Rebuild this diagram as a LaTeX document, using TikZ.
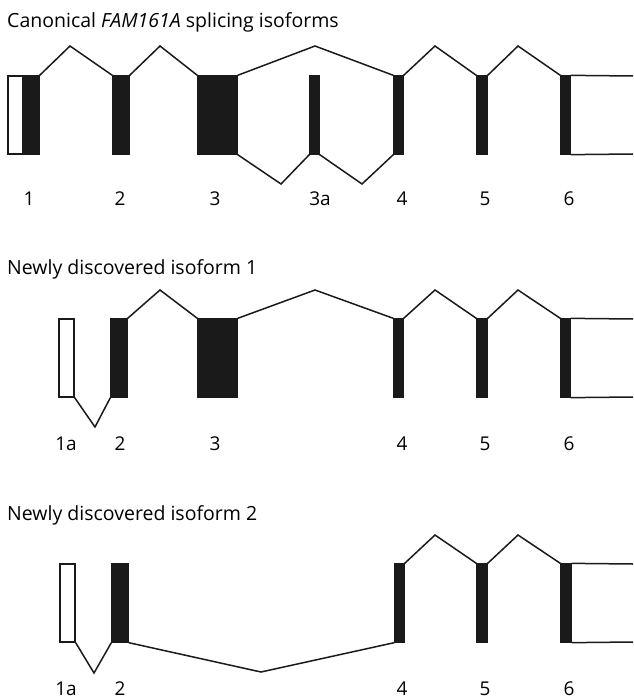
\documentclass[tikz,border=0pt]{standalone}
\usepackage{fontspec}
\setmainfont{Open Sans}
\usepackage{tikz}
\usetikzlibrary{positioning}

\definecolor{exonblack}{HTML}{1A1A1A}

\begin{document}
\begin{tikzpicture}[
		x=1pt, y=-1pt,
		exon/.style={rectangle, draw=exonblack, fill=exonblack, line width=1.3pt, inner sep=0pt, minimum height=78pt},
		utr/.style={rectangle, draw=exonblack, fill=white, line width=1.3pt, inner sep=0pt, minimum height=78pt},
		intron/.style={draw=exonblack, line width=1.5pt, line join=miter},
		title/.style={anchor=base west, inner sep=0pt, font=\fontsize{19.5}{23}\selectfont},
		label/.style={anchor=base, inner sep=0pt, font=\fontsize{19}{23}\selectfont}
	]
	\useasboundingbox (0,0) rectangle (633,700);

	% canonical isoforms
	\node[title] (t1) at (7,28) {Canonical \textit{FAM161A} splicing isoforms};
	\node[utr, minimum width=15pt] (a1u) at (15.5,115) {};
	\node[exon, minimum width=16pt] (a1) at (31,115) {};
	\node[exon, minimum width=16pt] (a2) at (121,115) {};
	\node[exon, minimum width=39pt] (a3) at (217.5,115) {};
	\node[exon, minimum width=9pt] (a3a) at (314.5,115) {};
	\node[exon, minimum width=9pt] (a4) at (398.5,115) {};
	\node[exon, minimum width=10pt] (a5) at (482,115) {};
	\node[exon, minimum width=9pt] (a6) at (565.5,115) {};
	\coordinate (a6t) at (633,76);
	\coordinate (a6b) at (633,154);

	\draw[intron] (a1.north east) -- (70,46) -- (a2.north west);
	\draw[intron] (a2.north east) -- (160,46) -- (a3.north west);
	\draw[intron] (a3.north east) -- (315,46) -- (a4.north west);
	\draw[intron] (a3.south east) -- (281,184) -- (a3a.south west);
	\draw[intron] (a3a.south east) -- (362,184) -- (a4.south west);
	\draw[intron] (a4.north east) -- (435,46) -- (a5.north west);
	\draw[intron] (a5.north east) -- (518,46) -- (a6.north west);
	\draw[intron] (a6.north east) -- (a6t);
	\draw[intron] (a6.south east) -- (a6b);

	\node[label] (la1) at (29,206) {1};
	\node[label] (la2) at (120,206) {2};
	\node[label] (la3) at (215,206) {3};
	\node[label] (la3a) at (320,206) {3a};
	\node[label] (la4) at (402,206) {4};
	\node[label] (la5) at (485,206) {5};
	\node[label] (la6) at (569,206) {6};

	% new isoform 1
	\node[title] (t2) at (7,274) {Newly discovered isoform 1};
	\node[utr, minimum width=15pt] (b1a) at (66.5,358) {};
	\node[exon, minimum width=16pt] (b2) at (119,358) {};
	\node[exon, minimum width=39pt] (b3) at (217.5,358) {};
	\node[exon, minimum width=9pt] (b4) at (398.5,358) {};
	\node[exon, minimum width=10pt] (b5) at (482,358) {};
	\node[exon, minimum width=9pt] (b6) at (565.5,358) {};
	\coordinate (b6t) at (633,319);
	\coordinate (b6b) at (633,397);

	\draw[intron] (b1a.south east) -- (95,427) -- (b2.south west);
	\draw[intron] (b2.north east) -- (160,290) -- (b3.north west);
	\draw[intron] (b3.north east) -- (315,290) -- (b4.north west);
	\draw[intron] (b4.north east) -- (435,290) -- (b5.north west);
	\draw[intron] (b5.north east) -- (518,290) -- (b6.north west);
	\draw[intron] (b6.north east) -- (b6t);
	\draw[intron] (b6.south east) -- (b6b);

	\node[label] (lb1a) at (66,450) {1a};
	\node[label] (lb2) at (120,450) {2};
	\node[label] (lb3) at (215,450) {3};
	\node[label] (lb4) at (402,450) {4};
	\node[label] (lb5) at (485,450) {5};
	\node[label] (lb6) at (569,450) {6};

	% new isoform 2
	\node[title] (t3) at (7,520) {Newly discovered isoform 2};
	\node[utr, minimum width=15pt] (c1a) at (67.5,603) {};
	\node[exon, minimum width=16pt] (c2) at (120,603) {};
	\node[exon, minimum width=9pt] (c4) at (399.5,603) {};
	\node[exon, minimum width=10pt] (c5) at (482,603) {};
	\node[exon, minimum width=10pt] (c6) at (566,603) {};
	\coordinate (c6t) at (633,564);
	\coordinate (c6b) at (633,642);

	\draw[intron] (c1a.south east) -- (94,673) -- (c2.south west);
	\draw[intron] (c2.south east) -- (261,672) -- (c4.south west);
	\draw[intron] (c4.north east) -- (435,535) -- (c5.north west);
	\draw[intron] (c5.north east) -- (518,535) -- (c6.north west);
	\draw[intron] (c6.north east) -- (c6t);
	\draw[intron] (c6.south east) -- (c6b);

	\node[label] (lc1a) at (66,695) {1a};
	\node[label] (lc2) at (120,695) {2};
	\node[label] (lc4) at (402,695) {4};
	\node[label] (lc5) at (485,695) {5};
	\node[label] (lc6) at (569,695) {6};
\end{tikzpicture}
\end{document}
